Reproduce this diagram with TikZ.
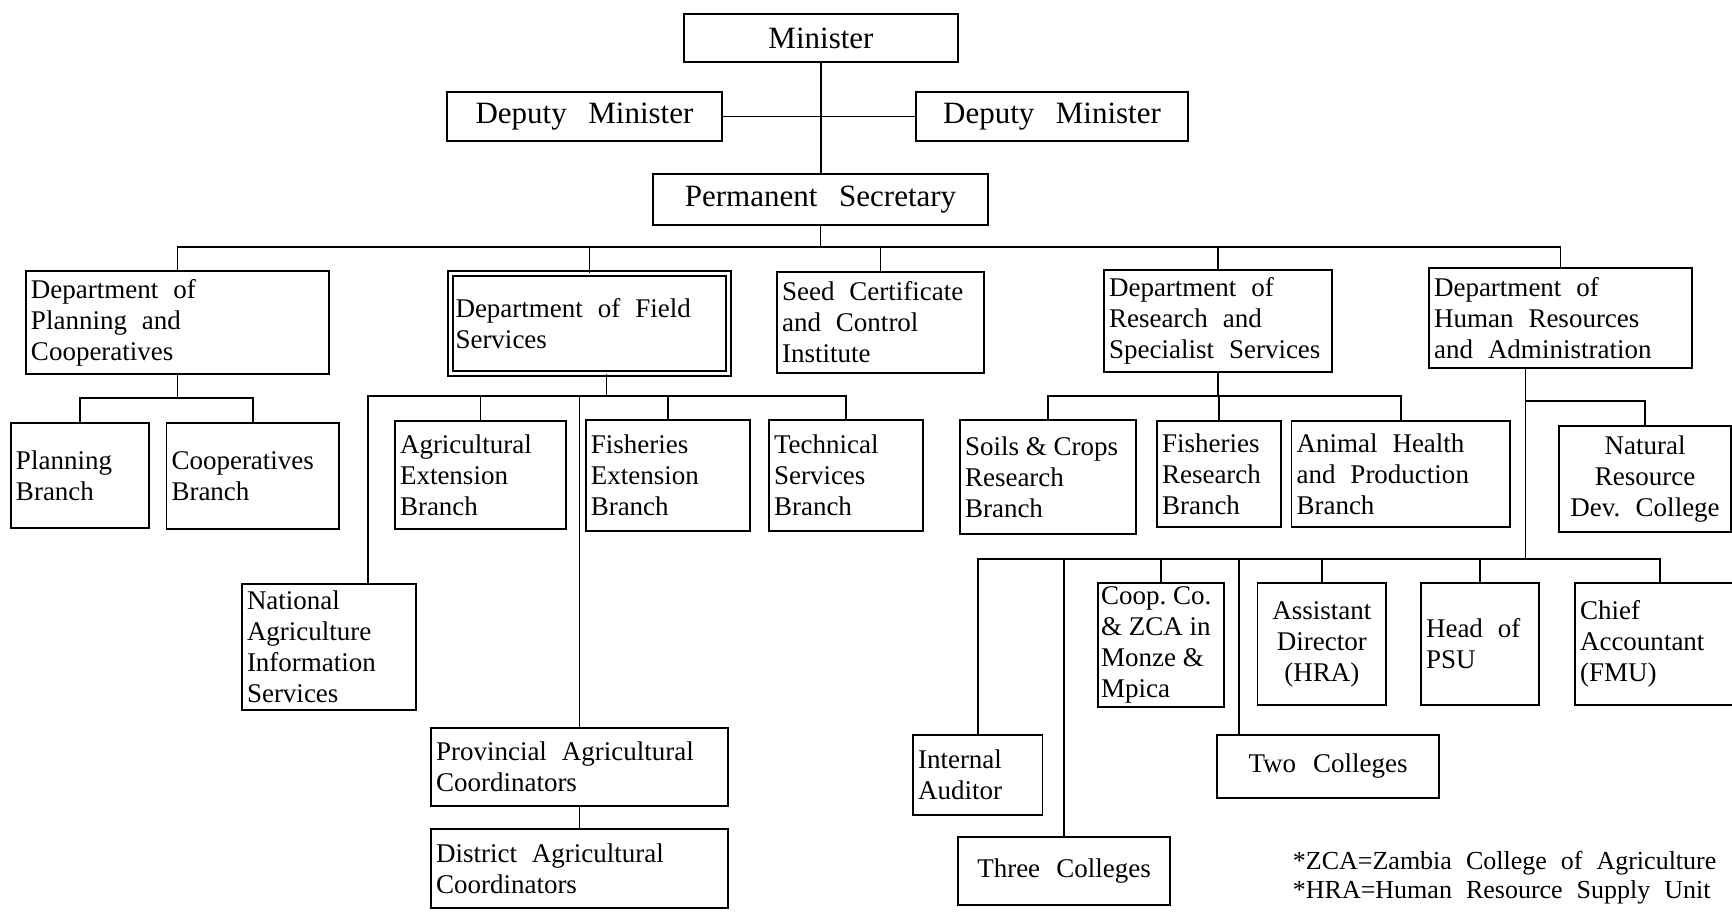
\documentclass[tikz,border=0pt]{standalone}
\usepackage{fontspec}
\setmainfont{Liberation Serif}
\usepackage{tikz}
\frenchspacing
\newcommand{\unitfont}{\fontsize{13.5}{15.5}\selectfont}
\newcommand{\headfont}{\fontsize{15.5}{17}\selectfont}
\newcommand{\notefont}{\fontsize{13}{14.5}\selectfont\spaceskip=7pt plus 2pt minus 1pt\relax}
\newcommand{\unitspace}{\spaceskip=7.5pt plus 2pt minus 1pt\relax}
\newcommand{\headspace}{\spaceskip=10pt plus 2pt minus 1pt\relax}
\newcommand{\tightspace}{\spaceskip=3.4pt plus 1pt\relax}

\begin{document}
\begin{tikzpicture}[x=0.5pt,y=0.5pt,yscale=-1,xscale=1,line width=0.9pt,
		unit/.style={draw, inner xsep=2.5pt, inner ysep=0pt, align=left, font=\unitfont, execute at begin node=\unitspace},
		head/.style={unit, align=center, font=\headfont, execute at begin node=\headspace},
		tight/.style={execute at begin node=\tightspace}]
			%set diagram size: 1732 x 912
			\fill [white] (0,0) rectangle (1732,912);
			\useasboundingbox (0,0) rectangle (1732,912);
			
			%Shape: Rectangle [Minister]
			\node [head, text width=132pt, minimum height=24pt] (min) at (821,38) {Minister};
			%Shape: Rectangle [Deputy Ministers]
			\node [head, text width=132.5pt, minimum height=24.5pt] (dml) at (584.5,116.5) {Deputy Minister};
			\node [head, text width=131pt, minimum height=24.5pt] (dmr) at (1052,116.5) {Deputy Minister};
			%Shape: Rectangle [Permanent Secretary]
			\node [head, text width=162.5pt, minimum height=25.5pt] (ps) at (820.5,199.5) {Permanent Secretary};
			
			%Shape: Rectangle [Departments]
			\node [unit, text width=146.5pt, minimum height=51.5pt] (dpc) at (177.5,322.5) {Department of\\Planning and\\Cooperatives};
			\node [unit, double, double distance=1.6pt, text width=134pt, minimum height=50pt] (dfs) at (589.5,323.5) {Department of Field\\Services};
			\node [unit, text width=98.5pt, minimum height=50.5pt] (sci) at (880.5,322.5) {Seed Certificate\\and Control\\Institute};
			\node [unit, text width=109pt, minimum height=51pt] (drs) at (1218,321) {Department of\\Research and\\Specialist Services};
			\node [unit, text width=126.5pt, minimum height=50pt] (dhr) at (1560.5,318) {Department of\\Human Resources\\and Administration};
			
			%Shape: Rectangle [Branches]
			\node [unit, text width=64pt, minimum height=52.5pt] (pb) at (80,475.5) {Planning\\Branch};
			\node [unit, text width=81.25pt, minimum height=53pt] (cb) at (252.75,476) {Cooperatives\\Branch};
			\node [unit, text width=80.5pt, minimum height=54pt] (aeb) at (480.5,475) {Agricultural\\Extension\\Branch};
			\node [unit, text width=77.25pt, minimum height=55.5pt] (feb) at (668,475.5) {Fisheries\\Extension\\Branch};
			\node [unit, text width=72pt, minimum height=55.5pt] (tsb) at (846,475.5) {Technical\\Services\\Branch};
			\node [unit, text width=82pt, minimum height=63pt] (nai) at (329,647) {National\\Agriculture\\Information\\Services};
			\node [unit, text width=143.5pt, minimum height=39pt] (pac) at (579.5,767) {Provincial Agricultural\\Coordinators};
			\node [unit, text width=143.5pt, minimum height=39.5pt] (dac) at (579.5,868.5) {District Agricultural\\Coordinators};
			\node [unit, tight, text width=83pt, minimum height=57pt] (scr) at (1048,477) {Soils \& Crops\\Research\\Branch};
			\node [unit, text width=57pt, minimum height=53pt] (frb) at (1219,474) {Fisheries\\Research\\Branch};
			\node [unit, text width=104.25pt, minimum height=53pt] (ahp) at (1400.75,474) {Animal Health\\and Production\\Branch};
			\node [unit, align=center, text width=81pt, minimum height=53pt] (nrd) at (1645,479) {Natural\\Resource\\Dev. College};
			
			%Shape: Rectangle [Human Resources units]
			\node [unit, text width=59.75pt, minimum height=40pt] (ia) at (977.75,775) {Internal\\Auditor};
			\node [unit, align=center, text width=101pt, minimum height=34pt] (tc) at (1064,871) {Three Colleges};
			\node [unit, tight, inner xsep=1.5pt, text width=59.8pt, minimum height=62pt] (ccz) at (1160.8,645) {Coop. Co.\\\& ZCA in\\Monze \&\\Mpica};
			\node [unit, align=center, text width=105.75pt, minimum height=31.5pt] (twc) at (1328,766.5) {Two Colleges};
			\node [unit, align=center, text width=59.25pt, minimum height=61pt] (adh) at (1321.75,644) {Assistant\\Director\\(HRA)};
			\node [unit, text width=54pt, minimum height=61pt] (psu) at (1480,644) {Head of\\PSU};
			\node [unit, text width=80pt, minimum height=61pt] (cac) at (1660,644) {Chief\\Accountant\\(FMU)};
			
			% Text Node
			\node [anchor=west, align=left, font=\notefont, inner sep=0pt] (note) at (1292,878) {*ZCA=Zambia College of Agriculture\\*HRA=Human Resource Supply Unit};
			
			%Straight Lines [bus levels]
			\coordinate (bus1) at (0,247);
			\coordinate (bus2) at (0,398);
			\coordinate (bus3) at (0,396);
			\coordinate (bus4) at (0,401);
			\coordinate (bus5) at (0,559);
			\coordinate (nail) at (368,396);
			\coordinate (hrd) at ([xshift=-17.5pt]dhr.south);
			\coordinate (twd) at (1239,559);
			
			%Straight Lines [top]
			\draw (min.south) -- (min.south |- ps.north);
			\draw (dml) -- (dmr);
			\draw (ps.south) -- (ps.south |- bus1);
			\draw (dpc.north) |- (dhr.north |- bus1) -- (dhr.north);
			\foreach \n in {dfs,sci,drs}
				\draw (\n.north) -- (\n.north |- bus1);
			
			%Straight Lines [planning]
			\draw (dpc.south) -- (dpc.south |- bus2);
			\draw (pb.north) |- (cb.north |- bus2) -- (cb.north);
			
			%Straight Lines [field services]
			\draw ([xshift=8.5pt]dfs.south) -- ([xshift=8.5pt]dfs.south |- bus3);
			\draw (nai.north -| nail) -- (nail) -- (tsb.north |- bus3) -- (tsb.north);
			\foreach \n in {aeb,feb,pac}
				\draw (\n.north) -- (\n.north |- bus3);
			\draw (pac) -- (dac);
			
			%Straight Lines [research]
			\draw (drs.south) -- (drs.south |- bus3);
			\draw (scr.north) |- (ahp.north |- bus3) -- (ahp.north);
			\draw (frb.north) -- (frb.north |- bus3);
			
			%Straight Lines [human resources]
			\draw (hrd) -- (hrd |- bus5);
			\draw (hrd |- bus4) -| (nrd.north);
			\draw (ia.north) |- (cac.north |- bus5) -- (cac.north);
			\foreach \n in {tc,ccz,adh,psu}
				\draw (\n.north) -- (\n.north |- bus5);
			\draw (twd) -- (twd |- twc.north);
			
\end{tikzpicture}
\end{document}
